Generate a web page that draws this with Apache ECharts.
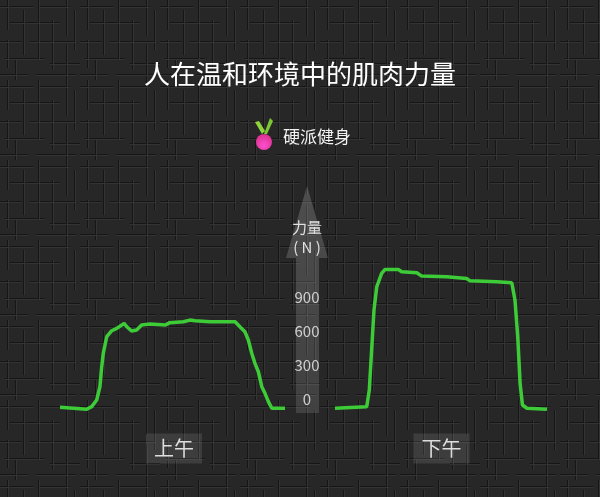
<!DOCTYPE html>
<html>
<head>
<meta charset="utf-8">
<script src="https://cdn.jsdelivr.net/npm/echarts@6/dist/echarts.min.js"></script>
<style>
html,body{margin:0;padding:0;width:600px;height:497px;overflow:hidden;background:#262626;}
#chart{width:600px;height:497px;}
</style>
</head>
<body>
<div id="chart"></div>
<script>
// ---- Data ----
var titleText = '人在温和环境中的肌肉力量';
var brandText = '硬派健身';
var axisName = '力量\n( N )';
var yTicks = [0, 300, 600, 900];
var sessionNames = ['上午', '下午'];
// time (0-100 % of trial) and force (N)
var morningT = [0, 11.7, 13.9, 16.1, 17.5, 18.3, 19.0, 20.5, 22.7, 24.9, 27.1, 28.1, 29.3, 31.4, 33.6, 35.8, 39.5, 46.1, 48.2, 54.1, 57.0, 59.2, 65.8, 76.8, 78.9, 81.1, 82.6, 84.1, 85.5, 87.0, 88.5, 89.9, 91.4, 92.9, 98.7];
var morningF = [19, 2, 25, 84, 201, 377, 498, 642, 695, 716, 745, 760, 730, 692, 701, 745, 754, 745, 766, 774, 789, 783, 774, 774, 730, 686, 613, 496, 407, 333, 201, 143, 69, 11, 11];
var afternoonT = [0, 14.9, 16.1, 17.2, 18.3, 19.6, 21.9, 23.5, 29.7, 31.3, 38.4, 40.7, 52.4, 61.8, 63.4, 75.9, 83.0, 84.5, 85.8, 86.9, 88.0, 90.1, 99.5];
var afternoonF = [11, 25, 172, 525, 878, 1083, 1201, 1236, 1236, 1215, 1206, 1177, 1171, 1156, 1135, 1127, 1118, 965, 641, 231, 40, 11, 2];

// ---- background texture (deterministic) ----
(function(){
  var c = document.createElement('canvas'); c.width = 80; c.height = 80;
  var g = c.getContext('2d');
  g.fillStyle = '#272727'; g.fillRect(0,0,80,80);
  var dark = [[0,6,34,1],[40,6,30,1],[10,22,50,1],[0,41,22,1],[30,41,45,1],[5,58,40,1],[50,63,30,1],[0,74,28,1],[36,74,40,1]];
  var vdark = [[7,0,1,30],[7,40,1,28],[23,10,1,45],[38,0,1,60],[52,20,1,50],[66,0,1,35],[66,45,1,35],[74,10,1,40],[15,60,1,20]];
  g.fillStyle = '#161616';
  dark.forEach(function(r){g.fillRect(r[0],r[1],r[2],r[3]);});
  vdark.forEach(function(r){g.fillRect(r[0],r[1],r[2],r[3]);});
  g.fillStyle = '#333333';
  dark.forEach(function(r){g.fillRect(r[0],r[1]+1,r[2],1);});
  vdark.forEach(function(r){g.fillRect(r[0]+1,r[1],1,r[3]);});
  document.body.style.background = 'url(' + c.toDataURL() + ') repeat';
})();

function pairs(t, f){ return t.map(function(v,i){ return [v, f[i]]; }); }

var chart = echarts.init(document.getElementById('chart'), null, {renderer:'canvas'});
var FONT = '"Noto Sans CJK SC", "Noto Sans", sans-serif';
var lineColor = '#3dcc38';

var option = {
  backgroundColor: 'transparent',
  animation: false,
  title: {
    text: titleText, left: 'center', top: 56,
    textStyle: {color:'#ffffff', fontSize:26, fontWeight:'normal', fontFamily: FONT}
  },
  grid: [
    {left: 60, width: 228, top: 239.5, bottom: 87.5},
    {left: 335, width: 213, top: 239.5, bottom: 87.5},
    {left: 307, width: 1, top: 307.5, bottom: 87.5}
  ],
  xAxis: [0,1].map(function(i){
    return {
      gridIndex: i, type: 'value', min: 0, max: 100,
      axisLine: {show:false}, axisTick: {show:false}, axisLabel: {show:false}, splitLine: {show:false},
      name: sessionNames[i], nameLocation: 'middle', nameGap: 24,
      nameTextStyle: {color:'#dddddd', fontSize:20, fontFamily: FONT, lineHeight: 20,
        backgroundColor:'rgba(255,255,255,0.10)', padding:[5,8]}
    };
  }).concat([{gridIndex:2, type:'value', show:false, min:0, max:1}]),
  yAxis: [
    {gridIndex:0, type:'value', min:0, max:1500, show:false},
    {gridIndex:1, type:'value', min:0, max:1500, show:false},
    {gridIndex:2, type:'value', min:0, max:900, interval:300, position:'left',
      axisLine:{show:false}, axisTick:{show:false}, splitLine:{show:false},
      axisLabel:{color:'#d0d0d0', fontSize:15, fontFamily: FONT, align:'center', margin:0,
        verticalAlign:'bottom', padding:[0,0,3,0],
        formatter: function(v){ return yTicks.indexOf(v) >= 0 ? String(v) : ''; }},
      name: axisName, nameLocation:'end', nameGap: 50,
      nameTextStyle:{color:'#e0e0e0', fontSize:15, fontFamily: FONT, align:'center', lineHeight:20}
    }
  ],
  graphic: [
    {type:'polygon', z:-1, shape:{points:[[307,186],[328,258],[319,258],[319,413],[296,413],[296,258],[286,258]]},
      style:{fill: new echarts.graphic.LinearGradient(0,0,0,1,[{offset:0,color:'rgba(255,255,255,0.18)'},{offset:1,color:'rgba(255,255,255,0.12)'}])}},
    {type:'polygon', shape:{points:[[262,134],[255,122],[259,121],[265,131]]}, style:{fill:'#8fd43a'}},
    {type:'polygon', shape:{points:[[264,134],[270,118],[273,121],[267,134]]}, style:{fill:'#7cc832'}},
    {type:'circle', shape:{cx:264, cy:142, r:8},
      style:{fill: new echarts.graphic.RadialGradient(0.5,0.7,0.7,[{offset:0,color:'#ff4fd0'},{offset:1,color:'#d8308a'}])}},
    {type:'text', left: 283, top: 128, style:{text: brandText, fill:'#f2f2f2', font:'17px ' + FONT}}
  ],
  series: [
    {type:'line', xAxisIndex:0, yAxisIndex:0, data: pairs(morningT, morningF), showSymbol:false,
      lineStyle:{color:lineColor, width:3.5}, itemStyle:{color:lineColor}},
    {type:'line', xAxisIndex:1, yAxisIndex:1, data: pairs(afternoonT, afternoonF), showSymbol:false,
      lineStyle:{color:lineColor, width:3.5}, itemStyle:{color:lineColor}}
  ]
};
chart.setOption(option);
</script>
</body>
</html>
